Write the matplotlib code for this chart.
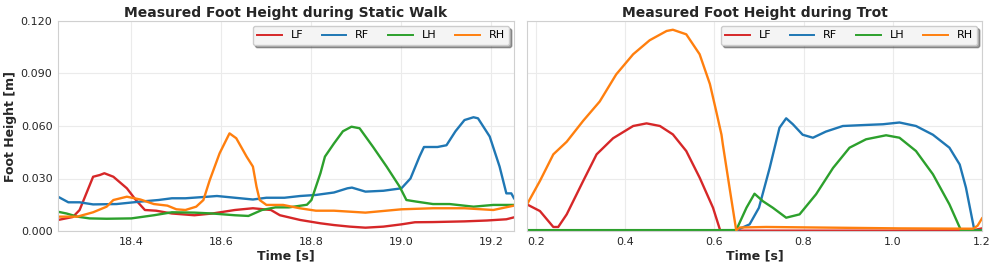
import numpy as np
import matplotlib
matplotlib.use("Agg")
import matplotlib.pyplot as plt
from matplotlib.ticker import FormatStrFormatter

# ---- Static walk (left) ----
walk_lf_t = [18.237, 18.27, 18.285, 18.30, 18.315, 18.33, 18.34, 18.36, 18.39, 18.41, 18.43, 18.455,
             18.49, 18.54, 18.58, 18.63, 18.67, 18.71, 18.73, 18.775, 18.82, 18.85, 18.885, 18.92,
             18.96, 19.0, 19.03, 19.07, 19.14, 19.19, 19.233, 19.25]
walk_lf_h = [0.0063, 0.008, 0.012, 0.0215, 0.031, 0.032, 0.033, 0.031, 0.0244, 0.0177, 0.012, 0.0116,
             0.010, 0.009, 0.010, 0.012, 0.013, 0.012, 0.009, 0.0063, 0.0044, 0.0034, 0.0025, 0.0019,
             0.0025, 0.0038, 0.005, 0.0051, 0.0055, 0.006, 0.0067, 0.0078]

walk_rf_t = [18.237, 18.26, 18.285, 18.315, 18.367, 18.42, 18.46, 18.49, 18.52, 18.57, 18.59, 18.63,
             18.67, 18.70, 18.74, 18.775, 18.81, 18.85, 18.88, 18.89, 18.92, 18.96, 19.0, 19.02,
             19.04, 19.05, 19.08, 19.1, 19.12, 19.14, 19.16, 19.17, 19.196, 19.218, 19.233, 19.244, 19.25]
walk_rf_h = [0.0196, 0.0164, 0.0164, 0.0152, 0.0154, 0.0168, 0.0177, 0.0187, 0.0187, 0.0196, 0.020, 0.019,
             0.018, 0.019, 0.019, 0.020, 0.0206, 0.022, 0.0244, 0.0248, 0.0225, 0.023, 0.0244, 0.030,
             0.0425, 0.048, 0.048, 0.049, 0.057, 0.0634, 0.065, 0.0644, 0.054, 0.0368, 0.0215, 0.0215, 0.0187]

walk_lh_t = [18.237, 18.256, 18.28, 18.307, 18.345, 18.40, 18.45, 18.49, 18.54, 18.58, 18.63, 18.66,
             18.69, 18.72, 18.75, 18.79, 18.80, 18.82, 18.83, 18.85, 18.87, 18.889, 18.907, 18.937,
             18.967, 18.996, 19.011, 19.033, 19.07, 19.107, 19.16, 19.204, 19.25]
walk_lh_h = [0.011, 0.010, 0.0082, 0.0072, 0.007, 0.0072, 0.009, 0.0107, 0.0105, 0.010, 0.009, 0.0086,
             0.012, 0.0135, 0.0135, 0.015, 0.0177, 0.033, 0.0425, 0.050, 0.057, 0.0596, 0.0587, 0.048,
             0.0368, 0.0253, 0.0177, 0.0168, 0.0154, 0.0154, 0.0139, 0.0149, 0.0149]

walk_rh_t = [18.237, 18.28, 18.315, 18.345, 18.36, 18.39, 18.42, 18.45, 18.48, 18.50, 18.52, 18.544,
             18.56, 18.574, 18.596, 18.618, 18.633, 18.656, 18.67, 18.678, 18.685, 18.70, 18.737,
             18.774, 18.81, 18.85, 18.92, 19.0, 19.07, 19.14, 19.204, 19.25]
walk_rh_h = [0.0082, 0.0082, 0.0107, 0.0139, 0.0177, 0.0196, 0.018, 0.0154, 0.0145, 0.0124, 0.012, 0.0139,
             0.0177, 0.029, 0.0444, 0.0558, 0.053, 0.0425, 0.0368, 0.0253, 0.0177, 0.0149, 0.0149,
             0.013, 0.0116, 0.0116, 0.0105, 0.0124, 0.013, 0.013, 0.012, 0.0145]

# ---- Trot (right) ----
trot_lf_t = [0.18, 0.209, 0.239, 0.25, 0.269, 0.306, 0.336, 0.373, 0.418, 0.448, 0.478, 0.507,
             0.537, 0.567, 0.597, 0.613, 0.65, 0.8, 1.0, 1.18, 1.2]
trot_lf_h = [0.0152, 0.0114, 0.0023, 0.0023, 0.0095, 0.0286, 0.0438, 0.053, 0.060, 0.0615, 0.060, 0.0552,
             0.0457, 0.0305, 0.0133, 0.0004, 0.0002, 0.0002, 0.0002, 0.0004, 0.0015]

trot_rf_t = [0.18, 0.4, 0.65, 0.679, 0.70, 0.724, 0.746, 0.761, 0.776, 0.798, 0.821, 0.85, 0.888,
             0.94, 0.978, 1.015, 1.052, 1.09, 1.127, 1.15, 1.164, 1.183, 1.2]
trot_rf_h = [0.0003, 0.0003, 0.0005, 0.0038, 0.0133, 0.036, 0.059, 0.0644, 0.061, 0.055, 0.0533, 0.0568,
             0.060, 0.0606, 0.061, 0.062, 0.060, 0.055, 0.0476, 0.038, 0.0248, 0.0003, 0.0003]

trot_lh_t = [0.18, 0.4, 0.649, 0.672, 0.69, 0.709, 0.731, 0.761, 0.791, 0.828, 0.866, 0.903, 0.94,
             0.985, 1.015, 1.052, 1.09, 1.127, 1.153, 1.2]
trot_lh_h = [0.0005, 0.0005, 0.0005, 0.0133, 0.0213, 0.017, 0.0133, 0.0076, 0.0095, 0.021, 0.036, 0.0476,
             0.0524, 0.0547, 0.0533, 0.0457, 0.0324, 0.0152, 0.0003, 0.0003]

trot_rh_t = [0.18, 0.209, 0.239, 0.269, 0.306, 0.343, 0.38, 0.418, 0.455, 0.493, 0.507, 0.537, 0.567,
             0.59, 0.604, 0.616, 0.619, 0.634, 0.649, 0.657, 0.716, 0.866, 1.015, 1.18, 1.19, 1.2]
trot_rh_h = [0.0152, 0.0286, 0.0438, 0.051, 0.063, 0.074, 0.0895, 0.101, 0.109, 0.1143, 0.115, 0.1124,
             0.101, 0.084, 0.0686, 0.055, 0.0495, 0.0248, 0.0004, 0.002, 0.0023, 0.0019, 0.0015, 0.0013,
             0.003, 0.0072]

legs = ["LF", "RF", "LH", "RH"]
colors = ["#d62728", "#1f77b4", "#2ca02c", "#ff7f0e"]
y_ticks = [0.0, 0.03, 0.06, 0.09, 0.12]

fig = plt.figure(figsize=(9.97, 2.69), dpi=100)
ax1 = fig.add_axes([58 / 997, 38 / 269, 456 / 997, 210 / 269])
ax2 = fig.add_axes([527 / 997, 38 / 269, 455 / 997, 210 / 269], sharey=ax1)

panels = [
    (ax1, "Measured Foot Height during Static Walk",
     [(walk_lf_t, walk_lf_h), (walk_rf_t, walk_rf_h), (walk_lh_t, walk_lh_h), (walk_rh_t, walk_rh_h)],
     (18.237, 19.25), [18.4, 18.6, 18.8, 19.0, 19.2]),
    (ax2, "Measured Foot Height during Trot",
     [(trot_lf_t, trot_lf_h), (trot_rf_t, trot_rf_h), (trot_lh_t, trot_lh_h), (trot_rh_t, trot_rh_h)],
     (0.18, 1.2), [0.2, 0.4, 0.6, 0.8, 1.0, 1.2]),
]

for ax, title, series, xlim, xticks in panels:
    for (t, h), name, c in zip(series, legs, colors):
        ax.plot(t, h, color=c, lw=1.7, label=name)
    ax.set_xlim(*xlim)
    ax.set_xticks(xticks)
    ax.set_ylim(0, 0.12)
    ax.set_yticks(y_ticks)
    ax.set_title(title, fontsize=10, fontweight="bold", color="#262626", pad=3)
    ax.set_xlabel("Time [s]", fontsize=9, fontweight="bold", color="#262626", labelpad=2)
    ax.grid(True, color="#ebebeb", lw=0.8)
    ax.set_axisbelow(True)
    for s in ax.spines.values():
        s.set_color("#d0d0d0")
    ax.tick_params(labelsize=8, colors="#262626", length=0, pad=4)
    leg = ax.legend(loc="upper right", ncol=4, fontsize=8, shadow=True, fancybox=True,
                    handlelength=2.2, handletextpad=0.8, columnspacing=1.7,
                    borderaxespad=0.45, framealpha=1)
    leg.get_frame().set_facecolor("#f4f4f4")
    leg.get_frame().set_edgecolor("#cccccc")
    for line in leg.get_lines():
        line.set_linewidth(1.4)

ax1.yaxis.set_major_formatter(FormatStrFormatter("%.3f"))
ax1.set_ylabel("Foot Height [m]", fontsize=9, fontweight="bold", color="#262626", labelpad=3)
plt.setp(ax2.get_yticklabels(), visible=False)

fig.savefig("out.png", dpi=100)
